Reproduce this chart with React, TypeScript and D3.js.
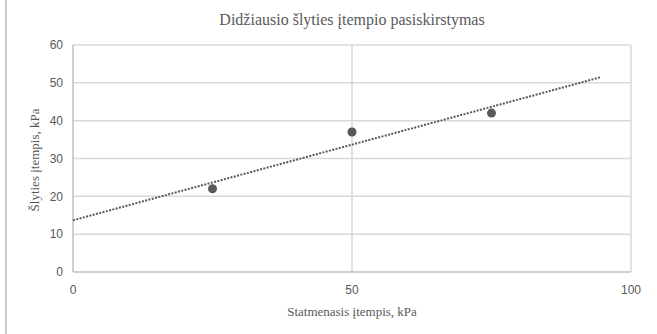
import React, { useEffect, useRef } from 'react';
import * as d3 from 'd3';

interface Point {
  x: number;
  y: number;
}

const normalStress: number[] = [25, 50, 75];
const shearStress: number[] = [22, 37, 42];
const yTicks: number[] = [0, 10, 20, 30, 40, 50, 60];
const xTicks: number[] = [0, 50, 100];
const trendRange: number[] = [0, 94.5];

const title = "Didžiausio šlyties įtempio pasiskirstymas";
const xTitle = "Statmenasis įtempis, kPa";
const yTitle = "Šlyties įtempis, kPa";

const App: React.FC = () => {
  const svgRef = useRef<SVGSVGElement>(null);

  useEffect(() => {
    if (!svgRef.current) return;

    const svg = d3.select(svgRef.current);
    svg.selectAll("*").remove();

    const width = 657;
    const height = 334;
    const plot = { left: 73, right: 631, top: 45, bottom: 272 };

    const xScale = d3.scaleLinear().domain([0, 100]).range([plot.left, plot.right]);
    const yScale = d3.scaleLinear().domain([0, 60]).range([plot.bottom, plot.top]);

    svg.append("rect")
      .attr("width", width)
      .attr("height", height)
      .attr("fill", "#fff");

    // outer chart border (only left edge visible)
    svg.append("line")
      .attr("x1", 6).attr("x2", 6)
      .attr("y1", 0).attr("y2", height)
      .attr("stroke", "#c9c9c9")
      .attr("stroke-width", 2);

    const serif = "'Liberation Serif', 'Times New Roman', serif";
    const sans = "'Liberation Sans', Arial, sans-serif";

    // horizontal gridlines
    yTicks.filter(t => t > 0).forEach(t => {
      svg.append("line")
        .attr("x1", plot.left).attr("x2", plot.right)
        .attr("y1", yScale(t)).attr("y2", yScale(t))
        .attr("stroke", "#d9d9d9")
        .attr("stroke-width", 1.5);
    });

    // vertical gridlines
    xTicks.forEach(t => {
      svg.append("line")
        .attr("x1", xScale(t)).attr("x2", xScale(t))
        .attr("y1", plot.top).attr("y2", plot.bottom)
        .attr("stroke", t === 0 ? "#bfbfbf" : "#d9d9d9")
        .attr("stroke-width", 1.5);
    });

    // x axis line
    svg.append("line")
      .attr("x1", plot.left).attr("x2", plot.right)
      .attr("y1", plot.bottom).attr("y2", plot.bottom)
      .attr("stroke", "#bfbfbf")
      .attr("stroke-width", 1.5);

    yTicks.forEach(t => {
      svg.append("text")
        .attr("x", plot.left - 10)
        .attr("y", yScale(t))
        .attr("dy", "0.35em")
        .attr("text-anchor", "end")
        .attr("font-family", sans)
        .attr("font-size", 12)
        .attr("fill", "#595959")
        .text(t);
    });

    xTicks.forEach(t => {
      svg.append("text")
        .attr("x", xScale(t))
        .attr("y", plot.bottom + 18)
        .attr("dy", "0.35em")
        .attr("text-anchor", "middle")
        .attr("font-family", sans)
        .attr("font-size", 12)
        .attr("fill", "#595959")
        .text(t);
    });

    // linear trendline (least squares)
    const meanX = d3.mean(normalStress) as number;
    const meanY = d3.mean(shearStress) as number;
    const slope = d3.sum(normalStress, (x, i) => (x - meanX) * (shearStress[i] - meanY)) /
      d3.sum(normalStress, x => (x - meanX) ** 2);
    const intercept = meanY - slope * meanX;
    const trend: Point[] = trendRange.map(x => ({ x, y: intercept + slope * x }));

    const lineGenerator = d3.line<Point>()
      .x(d => xScale(d.x))
      .y(d => yScale(d.y));

    svg.append("path")
      .datum(trend)
      .attr("d", lineGenerator)
      .attr("fill", "none")
      .attr("stroke", "#595959")
      .attr("stroke-width", 2)
      .attr("stroke-dasharray", "2 1.4");

    svg.selectAll("circle.pt")
      .data(normalStress.map((x, i) => ({ x, y: shearStress[i] })))
      .enter()
      .append("circle")
      .attr("class", "pt")
      .attr("cx", d => xScale(d.x))
      .attr("cy", d => yScale(d.y))
      .attr("r", 4.5)
      .attr("fill", "#595959");

    svg.append("text")
      .attr("x", 352)
      .attr("y", 19)
      .attr("dy", "0.35em")
      .attr("text-anchor", "middle")
      .attr("font-family", serif)
      .attr("font-size", 16)
      .attr("fill", "#595959")
      .text(title);

    svg.append("text")
      .attr("x", 352)
      .attr("y", 311)
      .attr("dy", "0.35em")
      .attr("text-anchor", "middle")
      .attr("font-family", serif)
      .attr("font-size", 13)
      .attr("fill", "#595959")
      .text(xTitle);

    svg.append("text")
      .attr("transform", `translate(34, 160) rotate(-90)`)
      .attr("dy", "0.35em")
      .attr("text-anchor", "middle")
      .attr("font-family", serif)
      .attr("font-size", 13)
      .attr("fill", "#595959")
      .text(yTitle);
  }, []);

  return (
    <svg ref={svgRef} width="657" height="334"
      style={{ position: 'absolute', left: 0, top: 0, display: 'block' }}></svg>
  );
};

export default App;
